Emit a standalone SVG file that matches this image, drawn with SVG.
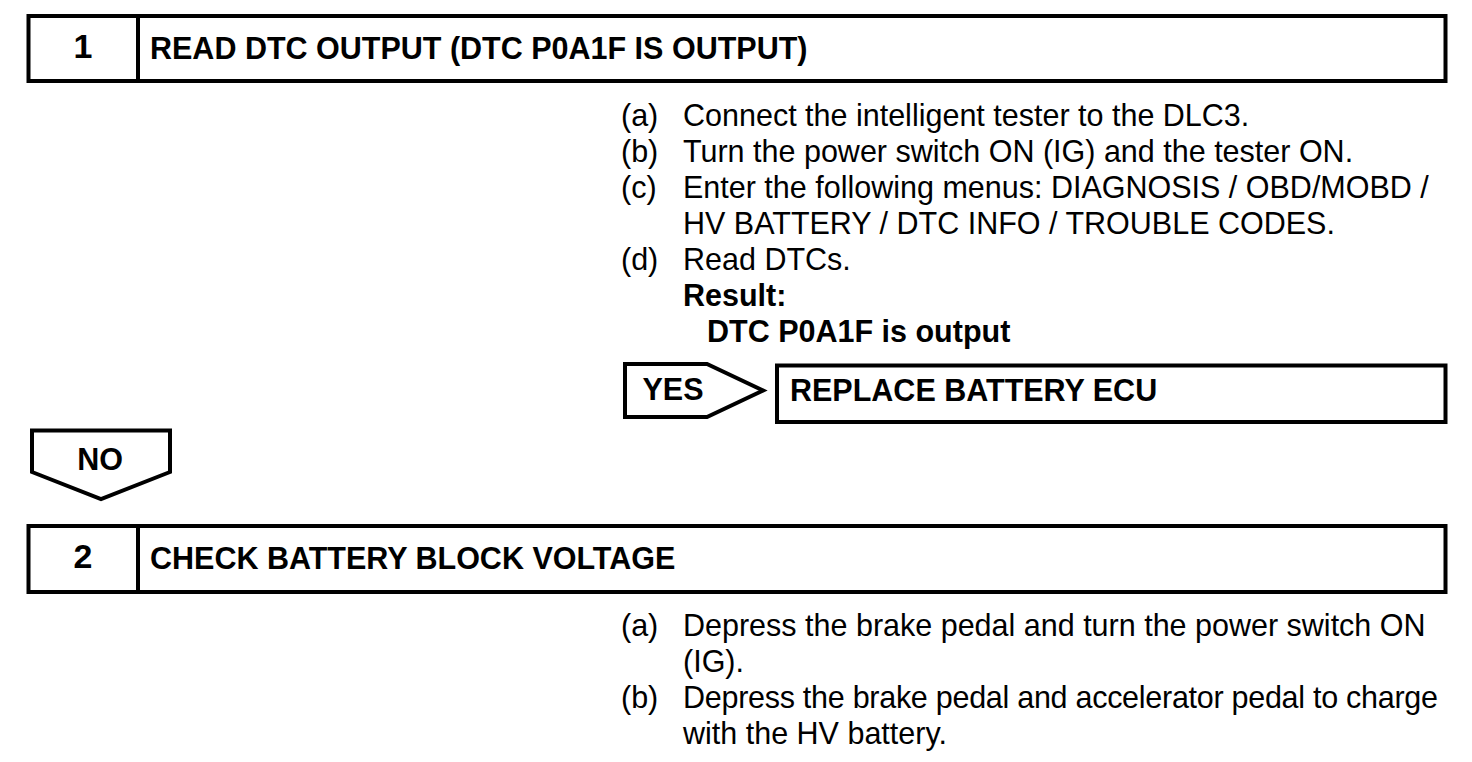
<svg xmlns="http://www.w3.org/2000/svg" width="1472" height="762" viewBox="0 0 1472 762">
<style>
.box{fill:#fff;stroke:#000;stroke-width:4}
.b{font-family:"Liberation Sans",Arial,sans-serif;font-weight:bold;font-size:30.5px;fill:#000}
.n{font-family:"Liberation Sans",Arial,sans-serif;font-weight:bold;font-size:34px;fill:#000;text-anchor:middle}
.t{font-family:"Liberation Sans",Arial,sans-serif;font-size:30.5px;fill:#000}
.mid{text-anchor:middle}
</style>
<rect width="1472" height="762" fill="#fff"/>
<g id="step1">
<rect class="box" x="28.5" y="16" width="1417" height="65"/>
<line x1="138" y1="16" x2="138" y2="81" stroke="#000" stroke-width="4"/>
<text class="n" x="83" y="58">1</text>
<text class="b" x="150" y="59">READ DTC OUTPUT (DTC P0A1F IS OUTPUT)</text>
</g>
<g id="step1-instructions">
<text class="t" x="621" y="126">(a)</text><text class="t" x="683" y="126">Connect the intelligent tester to the DLC3.</text>
<text class="t" x="621" y="162">(b)</text><text class="t" x="683" y="162">Turn the power switch ON (IG) and the tester ON.</text>
<text class="t" x="621" y="198">(c)</text><text class="t" x="683" y="198">Enter the following menus: DIAGNOSIS / OBD/MOBD /</text>
<text class="t" x="683" y="234">HV BATTERY / DTC INFO / TROUBLE CODES.</text>
<text class="t" x="621" y="270">(d)</text><text class="t" x="683" y="270">Read DTCs.</text>
<text class="b" x="683" y="306">Result:</text>
<text class="b" x="707" y="342">DTC P0A1F is output</text>
</g>
<g id="connectors">
<g id="yes">
<path class="box" d="M625,364 L707,364 L763,390.5 L707,417 L625,417 Z"/>
<text class="b mid" x="673" y="400">YES</text>
</g>
<g id="no">
<path class="box" d="M32,430.5 L170,430.5 L170,472 L101,499 L32,472 Z"/>
<text class="b mid" x="100" y="470">NO</text>
</g>
</g>
<g id="replace-ecu">
<rect class="box" x="777" y="365.5" width="668.5" height="56.5"/>
<text class="b" x="790" y="401">REPLACE BATTERY ECU</text>
</g>
<g id="step2">
<rect class="box" x="28.5" y="526" width="1417" height="66"/>
<line x1="138" y1="526" x2="138" y2="592" stroke="#000" stroke-width="4"/>
<text class="n" x="83" y="568">2</text>
<text class="b" x="150" y="569">CHECK BATTERY BLOCK VOLTAGE</text>
</g>
<g id="step2-instructions">
<text class="t" x="621" y="636">(a)</text><text class="t" x="683" y="636">Depress the brake pedal and turn the power switch ON</text>
<text class="t" x="683" y="672">(IG).</text>
<text class="t" x="621" y="708">(b)</text><text class="t" x="683" y="708" textLength="755" lengthAdjust="spacing">Depress the brake pedal and accelerator pedal to charge</text>
<text class="t" x="683" y="744">with the HV battery.</text>
</g>
</svg>
